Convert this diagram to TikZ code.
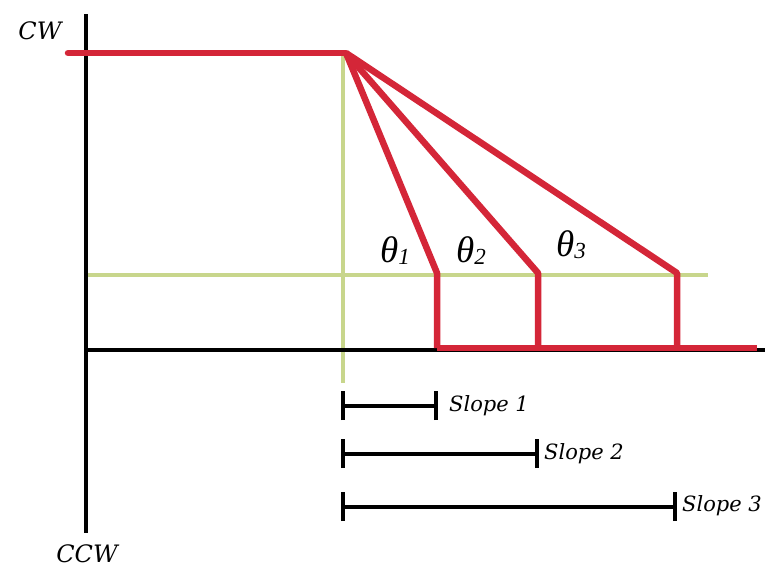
\documentclass[tikz,border=0pt]{standalone}
\usepackage{fontspec}
\setmainfont{DejaVu Serif}
\newfontfamily\thfont{Liberation Serif}
\definecolor{sigred}{RGB}{212,38,56}
\definecolor{guide}{RGB}{200,214,140}
\newcommand{\thlabel}[1]{{\thfont\itshape\fontsize{37}{37}\selectfont θ\raisebox{-2pt}{\fontsize{23}{23}\selectfont #1}}}
\begin{document}
\begin{tikzpicture}[x=1pt,y=-1pt,
  axis/.style={line width=3.6pt,black},
  sig/.style={line width=6.5pt,sigred,line join=round},
  guideline/.style={line width=3.4pt,guide},
  bar/.style={line width=3.8pt,black},
  lbl/.style={font=\itshape\fontsize{21}{21}\selectfont,inner sep=0pt},
  big/.style={font=\itshape\fontsize{24}{24}\selectfont,inner sep=0pt},
  ang/.style={inner sep=0pt}]
\useasboundingbox (0,0) rectangle (766,568);
% coordinates
\coordinate (ytop) at (86,14);
\coordinate (ybot) at (86,533);
\coordinate (xl) at (86,350);
\coordinate (xr) at (765,350);
\coordinate (gvt) at (343,53);
\coordinate (gvb) at (343,383);
\coordinate (ghl) at (86,275);
\coordinate (ghr) at (708,275);
\coordinate (s0) at (68,53);
\coordinate (apex) at (346,53);
\coordinate (k1) at (437,273);
\coordinate (k2) at (538,273);
\coordinate (k3) at (677,273);
\coordinate (b1) at (437,348);
\coordinate (b2) at (538,348);
\coordinate (b3) at (677,348);
\coordinate (bend) at (757,348);
% guides
\draw[guideline] (gvt) -- (gvb);
\draw[guideline] (ghl) -- (ghr);
% axes
\draw[axis] (ytop) -- (ybot);
\draw[axis] (xl) -- (xr);
% red signal
\draw[sig,line cap=round] (s0) -- (apex);
\draw[sig] (apex) -- (k1) -- (b1);
\draw[sig] (apex) -- (k2) -- (b2);
\draw[sig] (apex) -- (k3) -- (b3);
\draw[sig] (b1) -- (bend);
% labels
\node[big] (cw) at (40,31) {CW};
\node[big] (ccw) at (87,554) {CCW};
\node[ang,anchor=base west] (t1) at (380,262) {\thlabel{1}};
\node[ang,anchor=base west] (t2) at (456,262) {\thlabel{2}};
\node[ang,anchor=base west] (t3) at (556,256) {\thlabel{3}};
% slope bars
\coordinate (a1) at (343,406); \coordinate (e1) at (436,406);
\coordinate (a2) at (343,454); \coordinate (e2) at (537,454);
\coordinate (a3) at (343,507); \coordinate (e3) at (675,507);
\draw[bar] (a1) -- (e1);
\draw[bar] ([yshift=-14]a1) -- ([yshift=15]a1);
\draw[bar] ([yshift=-14]e1) -- ([yshift=15]e1);
\draw[bar] (a2) -- (e2);
\draw[bar] ([yshift=-14]a2) -- ([yshift=15]a2);
\draw[bar] ([yshift=-14]e2) -- ([yshift=15]e2);
\draw[bar] (a3) -- (e3);
\draw[bar] ([yshift=-14]a3) -- ([yshift=15]a3);
\draw[bar] ([yshift=-14]e3) -- ([yshift=15]e3);
\node[lbl,anchor=base west] (sl1) at (449,411) {Slope 1};
\node[lbl,anchor=base west] (sl2) at (544,459) {Slope 2};
\node[lbl,anchor=base west] (sl3) at (682,511) {Slope 3};
\end{tikzpicture}
\end{document}
